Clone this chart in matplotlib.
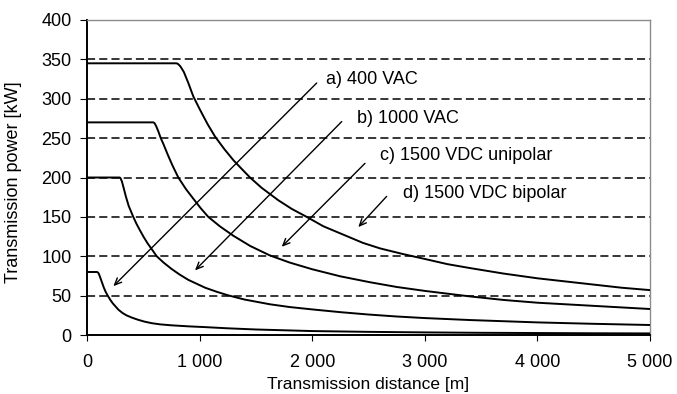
import matplotlib
matplotlib.use('Agg')
import matplotlib.pyplot as plt

plt.rcParams['font.family'] = ['Liberation Sans', 'DejaVu Sans']

# a) 400 VAC
a_dist = [0, 90, 100, 110, 120, 135, 150, 165, 184, 205, 230, 255, 280, 315, 350, 400, 450, 510, 575, 650,
          750, 900, 1050, 1250, 1500, 1750, 2000, 2500, 3000, 3500, 4000, 4500, 5000]
a_power = [80, 80, 79, 76, 72, 66, 60, 55, 50, 45, 40, 36, 32, 28, 25, 22, 19.5, 17, 15, 13.5,
           12.3, 11, 10, 8.5, 7, 6, 5, 4, 3.3, 2.8, 2.5, 2.2, 2]

# b) 1000 VAC
b_dist = [0, 290, 298, 310, 325, 345, 370, 411, 440, 470, 505, 540, 580, 619, 680, 750, 820, 900, 975, 1050,
          1150, 1250, 1400, 1625, 1800, 2000, 2250, 2500, 2750, 3000, 3400, 3700, 4000, 4500, 5000]
b_power = [200, 200, 199, 195, 187, 176, 164, 150, 141, 133, 124, 116, 108, 100, 92, 84, 77, 70, 65, 60,
           55, 50.5, 45, 39, 35.5, 32.5, 29, 26, 23.5, 21.5, 19, 17.5, 16, 14.2, 12.7]

# c) 1500 VDC unipolar
c_dist = [0, 589, 600, 615, 635, 655, 680, 720, 760, 811, 880, 950, 1010, 1077, 1180, 1300, 1450, 1625, 1800,
          2000, 2250, 2513, 2750, 3000, 3200, 3401, 3700, 4000, 4250, 4500, 4750, 5000]
c_power = [270, 270, 269, 265, 258, 250, 242, 228, 215, 200, 185, 172, 161, 150, 138, 126, 113, 101, 92,
           83.5, 74.5, 67, 61, 56, 52.5, 49, 44.5, 41, 39, 37, 35, 33]

# d) 1500 VDC bipolar
d_dist = [0, 796, 810, 830, 860, 900, 944, 1000, 1070, 1137, 1220, 1300, 1380, 1448, 1550, 1700, 1820, 1951,
          2100, 2300, 2450, 2602, 2800, 3017, 3200, 3401, 3700, 4000, 4250, 4500, 4750, 5000]
d_power = [345, 345, 344, 341, 334, 320, 303, 287, 268, 252, 236, 222, 210, 200, 187, 171, 160, 150,
           138, 126, 117, 110, 103, 96, 90, 85, 78, 72, 68, 64, 60, 57]

labels = ['a) 400 VAC', 'b) 1000 VAC', 'c) 1500 VDC unipolar', 'd) 1500 VDC bipolar']
label_x = [2125, 2398, 2602, 2806]
label_y = [324, 275, 228, 180]
tail_x = [2040, 2262, 2469, 2661]
tail_y = [320, 271, 218, 176]
head_x = [234, 959, 1729, 2409]
head_y = [62, 82, 112, 137]

x_ticks = [0, 1000, 2000, 3000, 4000, 5000]
x_ticklabels = ['0', '1 000', '2 000', '3 000', '4 000', '5 000']
y_ticks = [0, 50, 100, 150, 200, 250, 300, 350, 400]
grid_levels = [50, 100, 150, 200, 250, 300, 350]

fig = plt.figure(figsize=(6.77, 3.94), dpi=100)
ax = fig.add_axes([87 / 677, 1 - 335 / 394, 563 / 677, 315 / 394])

for g in grid_levels:
    ax.axhline(g, color='black', lw=1.1, ls=(0, (5.3, 2.7)), zorder=1)

for xs, ys in [(a_dist, a_power), (b_dist, b_power), (c_dist, c_power), (d_dist, d_power)]:
    ax.plot(xs, ys, color='black', lw=1.4, zorder=3, solid_joinstyle='round')

for i in range(len(labels)):
    ax.annotate('', xy=(head_x[i], head_y[i]), xytext=(tail_x[i], tail_y[i]),
                arrowprops=dict(arrowstyle='->,head_length=0.5,head_width=0.22', color='black', lw=1.0,
                                shrinkA=0, shrinkB=0), zorder=4)
    ax.text(label_x[i], label_y[i], labels[i], fontsize=13, va='center', ha='left')

ax.set_xlim(0, 5000)
ax.set_ylim(0, 400)
ax.set_xticks(x_ticks)
ax.set_xticklabels(x_ticklabels)
ax.set_yticks(y_ticks)
ax.tick_params(axis='both', labelsize=13, direction='out', colors='black')
ax.tick_params(axis='y', length=5, pad=6)
ax.tick_params(axis='x', length=4, pad=10)

for s in ['top', 'right']:
    ax.spines[s].set_color('#8c8c8c')
    ax.spines[s].set_linewidth(1.0)
for s in ['left', 'bottom']:
    ax.spines[s].set_color('black')
    ax.spines[s].set_linewidth(1.4)

ax.set_ylabel('Transmission power [kW]', fontsize=13)
ax.yaxis.set_label_coords(-0.115, 0.485)
ax.set_xlabel('Transmission distance [m]', fontsize=12.5)
ax.xaxis.set_label_coords(0.5, -0.133)

fig.savefig('out.png', dpi=100, facecolor='w')
